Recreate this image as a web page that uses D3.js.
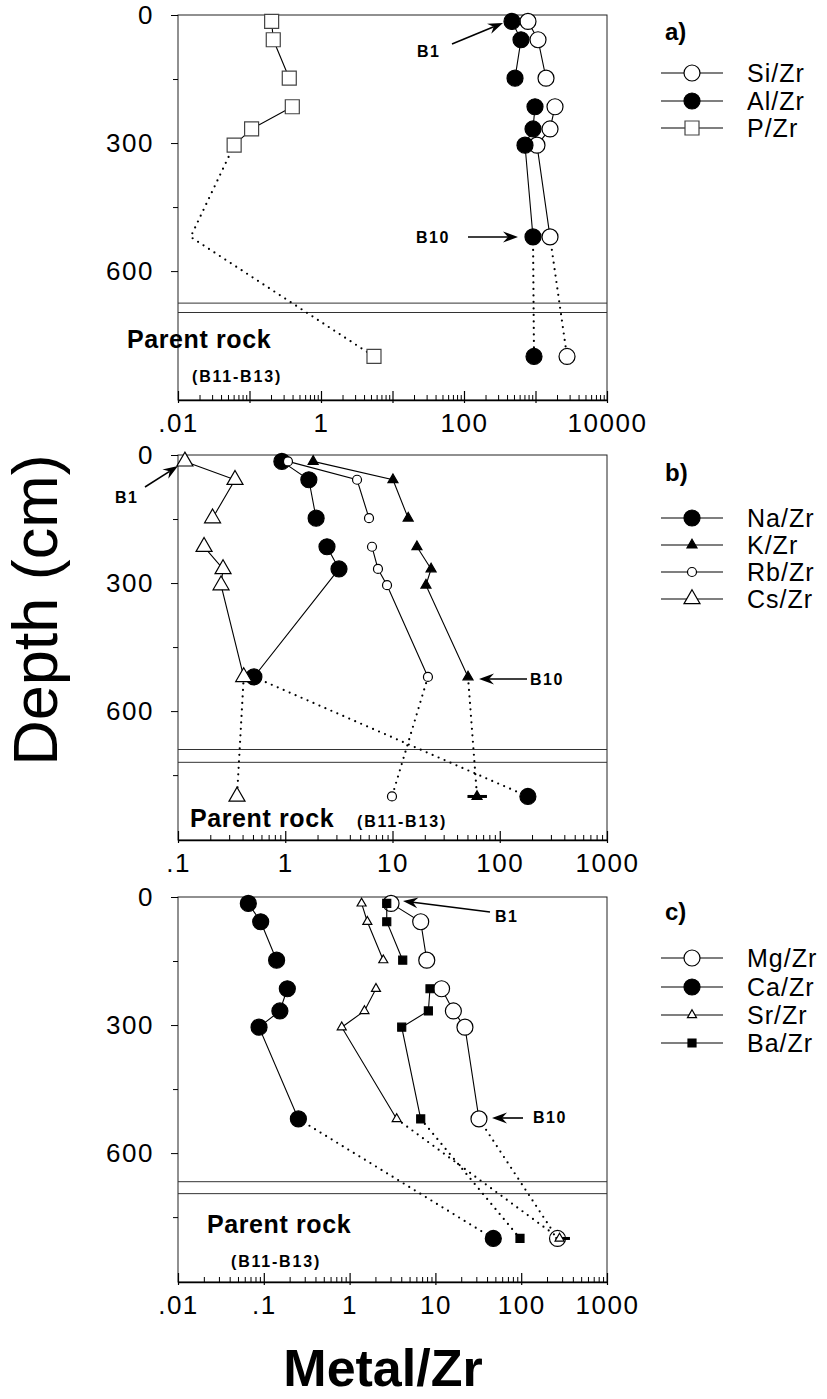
<!DOCTYPE html>
<html>
<head>
<meta charset="utf-8">
<script src="https://cdn.jsdelivr.net/npm/d3@7"></script>
<style>
  body { margin: 0; background: #fff; }
  svg text { font-family: "Liberation Sans", Arial, Helvetica, sans-serif; fill: #000; }
</style>
</head>
<body>
<svg id="chart" width="827" height="1399"></svg>
<script>
// Sample depths (cm): B1..B6, B10, then parent rock (B11-B13)
const sampleDepths = [15, 58, 148, 215, 267, 305, 520, 800];
const sampleNames = ["B1", "B2", "B3", "B4", "B5", "B6", "B10", "B11-B13"];

// a) Si, Al, P normalised to Zr
const siZr = [785, 1084, 1403, 1874, 1596, 1049, 1596, 2760];
const alZr = [469, 627, 517, 984, 923, 713, 923, 953];
const pZr  = [0.204, 0.215, 0.36, 0.397, 0.107, 0.061, 0.015, 5.51];

// b) alkali metals normalised to Zr
const naZr = [0.93, 1.66, 1.94, 2.45, 3.17, null, 0.51, 183];
const kZr  = [1.82, 10.1, 14.0, 16.9, 22.9, 20.5, 50.6, 61.4];
const rbZr = [1.06, 4.67, 6.04, 6.44, 7.32, 8.89, 21.4, 9.89];
const csZr = [0.116, 0.34, 0.21, 0.175, 0.263, 0.252, 0.41, 0.355];
const kZrParentRange = [50, 76];

// c) alkaline-earth metals normalised to Zr
const mgZr = [3.04, 6.74, 7.93, 11.8, 16.2, 22.1, 32.2, 265];
const caZr = [0.066, 0.092, 0.141, 0.188, 0.154, 0.088, 0.253, 47.3];
const srZr = [1.38, 1.61, 2.47, 2.03, 1.49, 0.81, 3.54, 280];
const baZr = [2.71, 2.71, 4.16, 8.65, 8.28, 4.05, 6.74, 96.8];
const srZrParentRange = [250, 370];

// Axis ticks
const depthTicks = [0, 300, 600];
const depthMinorTicks = [150, 450, 750];
const ticksA = [0.01, 1, 100, 10000];
const tickTextA = [".01", "1", "100", "10000"];
const ticksB = [0.1, 1, 10, 100, 1000];
const tickTextB = [".1", "1", "10", "100", "1000"];
const ticksC = [0.01, 0.1, 1, 10, 100, 1000];
const tickTextC = [".01", ".1", "1", "10", "100", "1000"];

// Depths of the two lines bounding the soil / parent rock transition
const boundaryA = [675, 697];
const boundaryB = [690, 720];
const boundaryC = [667, 695];

// ---------------------------------------------------------------
const svg = d3.select("#chart");
const X0 = 178, X1 = 607, PANEL_H = 385, DEPTH_MAX = 902;
const FONT = '"Liberation Sans", Arial, Helvetica, sans-serif';

const SOLID_GROUPS = [[0, 1, 2], [3, 4, 5, 6]];

const panels = [
  {
    key: "a)", top: 15, domain: [0.01, 10000], ticks: ticksA, tickText: tickTextA,
    boundary: boundaryA, legendY: [73, 101, 128], headerY: 40,
    series: [
      { name: "Si/Zr", values: siZr, shape: "circle", size: 8, fill: "#fff" },
      { name: "Al/Zr", values: alZr, shape: "circle", size: 8, fill: "#000" },
      { name: "P/Zr",  values: pZr,  shape: "square", size: 14, fill: "#fff", stroke: "#444",
        solidGroups: [[0, 1, 2], [3, 4, 5]], dottedFrom: 5, noMarker: [6] }
    ],
    notes: [
      { text: "B1", x: 417, y: 57, from: [452, 44], to: [503, 23] },
      { text: "B10", x: 416, y: 243, from: [468, 237], to: [518, 237] }
    ],
    rock: { x: 127, y: 348 }, rockSub: { x: 192, y: 382 }
  },
  {
    key: "b)", top: 455, domain: [0.1, 1000], ticks: ticksB, tickText: tickTextB,
    boundary: boundaryB, legendY: [518, 545, 572, 599], headerY: 481,
    series: [
      { name: "Na/Zr", values: naZr, shape: "circle", size: 8, fill: "#000" },
      { name: "K/Zr",  values: kZr,  shape: "triangle", size: 10, fill: "#000", parentRange: kZrParentRange },
      { name: "Rb/Zr", values: rbZr, shape: "circle", size: 4.5, fill: "#fff" },
      { name: "Cs/Zr", values: csZr, shape: "triangle", size: 16, fill: "#fff" }
    ],
    notes: [
      { text: "B1", x: 115, y: 503, from: [145, 487], to: [178, 466] },
      { text: "B10", x: 530, y: 685, from: [527, 679], to: [479, 679] }
    ],
    rock: { x: 190, y: 827 }, rockSub: { x: 357, y: 827 }
  },
  {
    key: "c)", top: 897, domain: [0.01, 1000], ticks: ticksC, tickText: tickTextC,
    boundary: boundaryC, legendY: [958, 987, 1015, 1043], headerY: 920,
    series: [
      { name: "Mg/Zr", values: mgZr, shape: "circle", size: 8, fill: "#fff" },
      { name: "Ca/Zr", values: caZr, shape: "circle", size: 8, fill: "#000" },
      { name: "Sr/Zr", values: srZr, shape: "triangle", size: 9, fill: "#fff", parentRange: srZrParentRange },
      { name: "Ba/Zr", values: baZr, shape: "square", size: 8, fill: "#000" }
    ],
    notes: [
      { text: "B1", x: 495, y: 922, from: [490, 912], to: [403, 901] },
      { text: "B10", x: 533, y: 1123, from: [523, 1118], to: [492, 1118] }
    ],
    rock: { x: 207, y: 1233 }, rockSub: { x: 231, y: 1267 }
  }
];

function symbolPath(shape, size) {
  if (shape === "circle") return d3.symbol(d3.symbolCircle, Math.PI * size * size)();
  if (shape === "square") return d3.symbol(d3.symbolSquare, size * size)();
  return d3.symbol(d3.symbolTriangle, Math.sqrt(3) / 4 * size * size)();
}

function arrow(g, from, to) {
  const dx = to[0] - from[0], dy = to[1] - from[1];
  const len = Math.hypot(dx, dy), ux = dx / len, uy = dy / len;
  const hl = 15, hw = 5.5;
  const bx = to[0] - ux * hl, by = to[1] - uy * hl;
  const nx = bx + ux * 5, ny = by + uy * 5;
  g.append("line").attr("x1", from[0]).attr("y1", from[1]).attr("x2", nx).attr("y2", ny)
    .attr("stroke", "#000").attr("stroke-width", 1.6);
  g.append("path")
    .attr("d", `M${to[0]},${to[1]} L${bx - uy * hw},${by + ux * hw} L${nx},${ny} L${bx + uy * hw},${by - ux * hw} Z`)
    .attr("fill", "#000");
}

panels.forEach(p => {
  const g = svg.append("g");
  const x = d3.scaleLog().domain(p.domain).range([X0, X1]);
  const y = d3.scaleLinear().domain([0, DEPTH_MAX]).range([p.top, p.top + PANEL_H]);
  const bottom = p.top + PANEL_H;

  // frame
  g.append("rect").attr("x", X0).attr("y", p.top).attr("width", X1 - X0).attr("height", PANEL_H)
    .attr("fill", "none").attr("stroke", "#222").attr("stroke-width", 1);

  // soil / parent rock boundary
  p.boundary.forEach(d => {
    g.append("line").attr("x1", X0).attr("x2", X1).attr("y1", y(d)).attr("y2", y(d))
      .attr("stroke", "#333").attr("stroke-width", 1);
  });

  // depth axis
  const yAxis = g.append("g").attr("transform", `translate(${X0},0)`)
    .call(d3.axisLeft(y).tickValues(depthTicks).tickSize(7).tickPadding(17).tickSizeOuter(0));
  g.append("g").attr("transform", `translate(${X0},0)`)
    .call(d3.axisLeft(y).tickValues(depthMinorTicks).tickSize(5).tickFormat("").tickSizeOuter(0))
    .select(".domain").remove();
  yAxis.select(".domain").remove();
  yAxis.selectAll("text").attr("font-size", 26).attr("font-family", FONT).attr("letter-spacing", 1.5);

  // Metal/Zr axis (log), ticks pointing into the panel
  const lo = Math.round(Math.log10(p.domain[0])), hi = Math.round(Math.log10(p.domain[1]));
  const decades = d3.range(lo, hi + 1).map(e => Math.pow(10, e));
  const minors = [];
  decades.slice(0, -1).forEach(d => { for (let m = 2; m <= 9; m++) minors.push(d * m); });
  const labelOf = v => {
    const i = p.ticks.findIndex(t => Math.abs(Math.log10(t) - Math.log10(v)) < 1e-6);
    return i >= 0 ? p.tickText[i] : "";
  };
  const xAxis = g.append("g").attr("transform", `translate(0,${bottom})`)
    .call(d3.axisBottom(x).tickValues(decades).tickSize(-9).tickPadding(14).tickFormat(labelOf).tickSizeOuter(0));
  xAxis.select(".domain").attr("stroke-width", 1.4);
  xAxis.selectAll(".tick line").attr("y2", -9).attr("y1", 3).attr("stroke-width", 1.2);
  xAxis.selectAll("text").attr("font-size", 26).attr("font-family", FONT).attr("letter-spacing", 1.5);
  g.append("g").attr("transform", `translate(0,${bottom})`)
    .call(d3.axisBottom(x).tickValues(minors).tickSize(-5).tickFormat("").tickSizeOuter(0))
    .select(".domain").remove();

  // profiles
  p.series.forEach(s => {
    const pts = s.values.map((v, i) => ({ v, d: sampleDepths[i], i }));
    const line = d3.line().x(d => x(d.v)).y(d => y(d.d));
    const groups = s.solidGroups || SOLID_GROUPS;
    groups.forEach(grp => {
      const seg = grp.map(i => pts[i]).filter(d => d.v != null);
      if (seg.length > 1)
        g.append("path").attr("d", line(seg)).attr("fill", "none").attr("stroke", "#000").attr("stroke-width", 1.1);
    });
    const dotFrom = s.dottedFrom != null ? s.dottedFrom : 6;
    const dotted = pts.slice(dotFrom).filter(d => d.v != null);
    g.append("path").attr("d", line(dotted)).attr("fill", "none").attr("stroke", "#000")
      .attr("stroke-width", 2.2).attr("stroke-linecap", "round").attr("stroke-dasharray", "0,6.5");

    if (s.parentRange) {
      const yy = y(sampleDepths[7]);
      g.append("line").attr("x1", x(s.parentRange[0])).attr("x2", x(s.parentRange[1]))
        .attr("y1", yy).attr("y2", yy).attr("stroke", "#000").attr("stroke-width", 3);
    }

    g.selectAll(null).data(pts.filter(d => d.v != null && !(s.noMarker || []).includes(d.i)))
      .enter().append("path")
      .attr("d", symbolPath(s.shape, s.size))
      .attr("transform", d => `translate(${x(d.v)},${y(d.d)})`)
      .attr("fill", s.fill).attr("stroke", s.stroke || "#000").attr("stroke-width", 1.2);
  });

  // sample annotations
  p.notes.forEach(n => {
    g.append("text").attr("x", n.x).attr("y", n.y).text(n.text)
      .attr("font-size", 16).attr("font-weight", "bold").attr("letter-spacing", 1.5);
    arrow(g, n.from, n.to);
  });
  g.append("text").attr("x", p.rock.x).attr("y", p.rock.y).text("Parent rock")
    .attr("font-size", 25).attr("font-weight", "bold").attr("letter-spacing", 0.6);
  g.append("text").attr("x", p.rockSub.x).attr("y", p.rockSub.y).text("(B11-B13)")
    .attr("font-size", 16).attr("font-weight", "bold").attr("letter-spacing", 1.8);

  // legend
  g.append("text").attr("x", 665).attr("y", p.headerY).text(p.key)
    .attr("font-size", 24).attr("font-weight", "bold");
  p.series.forEach((s, i) => {
    const ly = p.legendY[i];
    g.append("line").attr("x1", 661).attr("x2", 723).attr("y1", ly).attr("y2", ly)
      .attr("stroke", "#000").attr("stroke-width", 1.1);
    g.append("path").attr("d", symbolPath(s.shape, s.size))
      .attr("transform", `translate(692,${ly})`)
      .attr("fill", s.fill).attr("stroke", s.stroke || "#000").attr("stroke-width", 1.2);
    g.append("text").attr("x", 747).attr("y", ly).attr("dy", "0.35em").text(s.name)
      .attr("font-size", 25).attr("letter-spacing", 1);
  });
});

// shared axis titles
svg.append("text").attr("transform", "translate(57,610) rotate(-90)")
  .attr("text-anchor", "middle").attr("font-size", 63).text("Depth (cm)");
svg.append("text").attr("x", 383).attr("y", 1386).attr("text-anchor", "middle")
  .attr("font-size", 52).attr("font-weight", "bold").text("Metal/Zr");
</script>
</body>
</html>
